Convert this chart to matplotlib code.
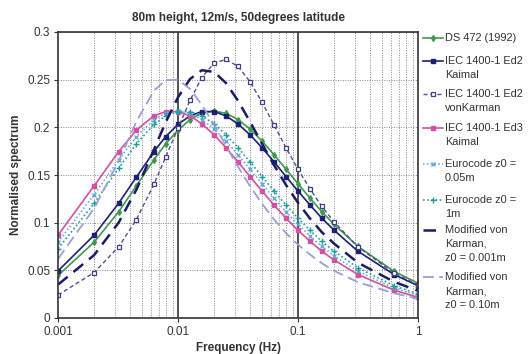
import matplotlib
matplotlib.use("Agg")
import matplotlib.pyplot as plt
from matplotlib.lines import Line2D
from matplotlib.ticker import NullFormatter

plt.rcParams['font.family'] = ['Liberation Sans', 'DejaVu Sans']

freq = [0.001, 0.002, 0.0032, 0.0045, 0.0063, 0.0079, 0.01, 0.0126, 0.0158, 0.02,
        0.0251, 0.0316, 0.0398, 0.0501, 0.0631, 0.0794, 0.1, 0.126, 0.158, 0.2,
        0.316, 0.631, 1.0]

ds472 = [0.0446, 0.0795, 0.1114, 0.1386, 0.1659, 0.1827, 0.1971, 0.2081, 0.2149, 0.2171,
         0.2147, 0.2082, 0.1983, 0.1857, 0.1713, 0.1561, 0.1408, 0.1257, 0.1114, 0.0982,
         0.0751, 0.0490, 0.0365]
iec2_kaimal = [0.0493, 0.0869, 0.1203, 0.1478, 0.1745, 0.1903, 0.2031, 0.2120, 0.2166, 0.2165,
               0.2120, 0.2036, 0.1922, 0.1787, 0.1638, 0.1484, 0.1332, 0.1185, 0.1047, 0.0920,
               0.0700, 0.0456, 0.0339]
iec2_vk = [0.0241, 0.0477, 0.0746, 0.1033, 0.1402, 0.1689, 0.1991, 0.2283, 0.2522, 0.2674,
           0.2712, 0.2640, 0.2479, 0.2265, 0.2025, 0.1786, 0.1560, 0.1354, 0.1170, 0.1008,
           0.0745, 0.0472, 0.0347]
iec3_kaimal = [0.0869, 0.1386, 0.1745, 0.1971, 0.2120, 0.2166, 0.2165, 0.2120, 0.2036, 0.1922,
               0.1787, 0.1638, 0.1484, 0.1332, 0.1185, 0.1047, 0.0920, 0.0804, 0.0700, 0.0608,
               0.0456, 0.0292, 0.0216]
euro_005 = [0.0795, 0.1293, 0.1659, 0.1903, 0.2081, 0.2149, 0.2171, 0.2147, 0.2082, 0.1983,
            0.1857, 0.1713, 0.1561, 0.1408, 0.1257, 0.1114, 0.0982, 0.0860, 0.0751, 0.0653,
            0.0490, 0.0315, 0.0233]
euro_1 = [0.0726, 0.1203, 0.1569, 0.1827, 0.2031, 0.2120, 0.2166, 0.2165, 0.2120, 0.2036,
          0.1922, 0.1787, 0.1638, 0.1484, 0.1332, 0.1185, 0.1047, 0.0920, 0.0804, 0.0700,
          0.0527, 0.0339, 0.0251]
mvk_0001 = [0.0350, 0.0660, 0.1000, 0.1346, 0.1766, 0.2055, 0.2315, 0.2507, 0.2599, 0.2581,
            0.2465, 0.2280, 0.2060, 0.1829, 0.1604, 0.1396, 0.1209, 0.1043, 0.0900, 0.0780,
            0.0580, 0.0380, 0.0285]
mvk_010 = [0.0620, 0.1150, 0.1646, 0.2060, 0.2385, 0.2495, 0.2499, 0.2404, 0.2236, 0.2029,
           0.1807, 0.1588, 0.1384, 0.1199, 0.1035, 0.0892, 0.0770, 0.0665, 0.0575, 0.0495,
           0.0375, 0.0260, 0.0200]

labels = ["DS 472 (1992)", "IEC 1400-1 Ed2\nKaimal", "IEC 1400-1 Ed2\nvonKarman",
          "IEC 1400-1 Ed3\nKaimal", "Eurocode z0 =\n0.05m", "Eurocode z0 =\n1m",
          "Modified von\nKarman,\nz0 = 0.001m", "Modified von\nKarman,\nz0 = 0.10m"]

W, H = 528, 354
fig = plt.figure(figsize=(W/100, H/100), dpi=100)
ax = fig.add_axes([58/W, 1-318/H, 360/W, 286/H])

styles = [
    dict(color='#3d9a4c', lw=1.2, marker='d', ms=3),
    dict(color='#1f1f78', lw=1.2, marker='s', ms=3),
    dict(color='#50508e', lw=1.0, ls=(0, (3, 2)), marker='s', ms=3.5, mfc='white', mec='#40408a', mew=0.9),
    dict(color='#d64fa3', lw=1.2, marker='s', ms=3),
    dict(color='#5aa6da', lw=1.1, ls=(0, (1, 1.5)), marker='x', ms=3, mew=0.9),
    dict(color='#1e9e9e', lw=1.2, ls=(0, (1, 1.5)), marker='+', ms=4, mew=1.0),
    dict(color='#1c1c66', lw=1.8, ls=(0, (5, 3))),
    dict(color='#9c9cd8', lw=1.3, ls=(0, (6, 3))),
]
series = [ds472, iec2_kaimal, iec2_vk, iec3_kaimal, euro_005, euro_1, mvk_0001, mvk_010]

for vals, st, lab in zip(series, styles, labels):
    ax.plot(freq, vals, label=lab, **st)

ax.set_xscale('log')
ax.set_xlim(0.001, 1)
ax.set_ylim(0, 0.3)
ax.set_yticks([0, 0.05, 0.1, 0.15, 0.2, 0.25, 0.3])
ax.set_yticklabels(['0', '0.05', '0.1', '0.15', '0.2', '0.25', '0.3'])
ax.set_xticks([0.001, 0.01, 0.1, 1])
ax.set_xticklabels(['0.001', '0.01', '0.1', '1'])
ax.xaxis.set_minor_formatter(NullFormatter())

ax.grid(True, which='minor', axis='x', color='#888888', ls=(0, (1, 1.5)), lw=0.7)
ax.grid(True, which='major', axis='y', color='#888888', ls=(0, (1, 1.5)), lw=0.7)
for v in [0.01, 0.1]:
    ax.axvline(v, color='#333333', lw=1.2, zorder=1)

for s in ax.spines.values():
    s.set_color('#333333')
    s.set_linewidth(1.2)
ax.tick_params(axis='both', which='major', labelsize=8.5, colors='#333333', length=3, pad=2.5)
ax.tick_params(axis='x', which='minor', length=0)
ax.set_axisbelow(True)

ax.set_title("80m height, 12m/s, 50degrees latitude", fontsize=8.5, fontweight='bold',
             color='#333333', pad=8)
ax.set_xlabel("Frequency (Hz)", fontsize=8.5, fontweight='bold', color='#333333', labelpad=3)
ax.set_ylabel("Normalised spectrum", fontsize=8.5, fontweight='bold', color='#333333', labelpad=4)

# manual legend: handle aligned with the first text line
first_line_y = [38, 61, 94, 128, 164, 200, 230, 277]
line_step = 14
hx0, hx1, tx = 423, 443, 445
for lab, st, y0 in zip(labels, styles, first_line_y):
    yf = 1 - y0 / H
    ln = Line2D([hx0 / W, hx1 / W], [yf, yf], transform=fig.transFigure, **st,
                markevery=[])
    fig.add_artist(ln)
    if 'marker' in st:
        mk = {k: v for k, v in st.items() if k not in ('ls',)}
        mk['lw'] = 0
        mdot = Line2D([(hx0 + hx1) / 2 / W], [yf], transform=fig.transFigure, **mk)
        fig.add_artist(mdot)
    for i, part in enumerate(lab.split('\n')):
        fig.text(tx / W, 1 - (y0 + i * line_step) / H, part, fontsize=7.9, color='#333333',
                 va='center', ha='left')

fig.savefig("out.png", dpi=100)
